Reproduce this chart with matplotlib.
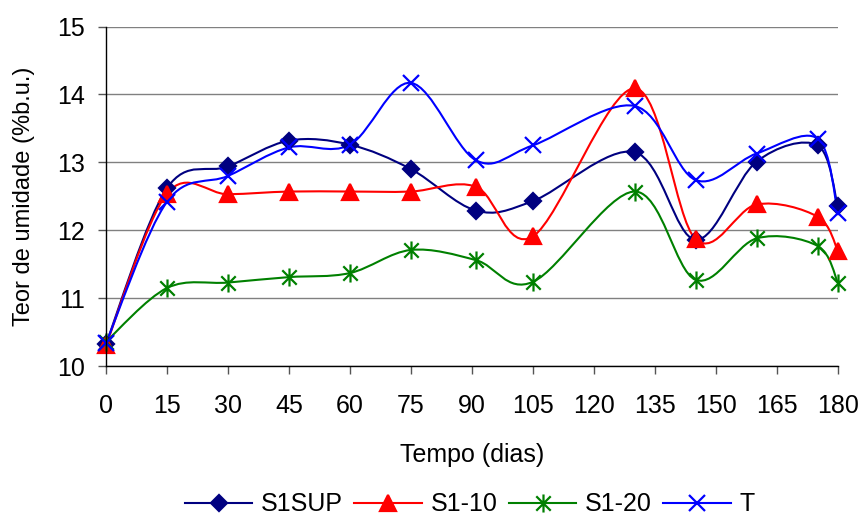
import matplotlib.pyplot as plt
from matplotlib.lines import Line2D
from matplotlib.patches import PathPatch
from matplotlib.path import Path

plt.rcParams["font.family"] = ["Liberation Sans", "DejaVu Sans"]

DAYS = [0, 15, 30, 45, 60, 75, 91, 105, 130, 145, 160, 175, 180]

S1SUP = [10.33, 12.62, 12.94, 13.32, 13.26, 12.90, 12.29, 12.43, 13.15, 11.86, 13.01, 13.25, 12.35]
S1_10 = [10.31, 12.54, 12.53, 12.57, 12.57, 12.57, 12.64, 11.91, 14.09, 11.87, 12.38, 12.20, 11.70]
S1_20 = [10.36, 11.15, 11.23, 11.31, 11.37, 11.71, 11.56, 11.24, 12.57, 11.27, 11.88, 11.77, 11.23]
T = [10.34, 12.42, 12.80, 13.22, 13.26, 14.17, 13.03, 13.25, 13.83, 12.74, 13.13, 13.35, 12.26]

X_TICKS = list(range(0, 181, 15))
Y_TICKS = [10, 11, 12, 13, 14, 15]

# Excel-like asterisk: an x with a vertical bar
ASTERISK = Path(
    [(-0.8, -0.8), (0.8, 0.8), (-0.8, 0.8), (0.8, -0.8), (0, -1), (0, 1)],
    [Path.MOVETO, Path.LINETO, Path.MOVETO, Path.LINETO, Path.MOVETO, Path.LINETO],
)

SERIES = [
    ("S1SUP", S1SUP, "#000080", "D", 8.5),
    ("S1-10", S1_10, "#ff0000", "^", 11),
    ("S1-20", S1_20, "#008000", ASTERISK, 13),
    ("T", T, "#0000ff", "x", 11),
]


def smooth_path(xs, ys):
    # cubic bezier through the points, same idea as Excel's smoothed line
    pts = list(zip(xs, ys))
    n = len(pts)
    verts = [pts[0]]
    codes = [Path.MOVETO]
    for i in range(n - 1):
        p0 = pts[max(i - 1, 0)]
        p1 = pts[i]
        p2 = pts[i + 1]
        p3 = pts[min(i + 2, n - 1)]
        c1 = (p1[0] + (p2[0] - p0[0]) / 6, p1[1] + (p2[1] - p0[1]) / 6)
        c2 = (p2[0] - (p3[0] - p1[0]) / 6, p2[1] - (p3[1] - p1[1]) / 6)
        verts += [c1, c2, p2]
        codes += [Path.CURVE4] * 3
    return Path(verts, codes)


fig = plt.figure(figsize=(8.62, 5.2), dpi=100)
ax = fig.add_axes([0.123, 0.296, 0.849, 0.653])

for name, vals, color, marker, ms in SERIES:
    patch = PathPatch(smooth_path(DAYS, vals), fill=False, edgecolor=color,
                      linewidth=1.5, clip_on=False)
    ax.add_patch(patch)
    ax.plot(DAYS, vals, linestyle="none", marker=marker, markersize=ms,
            color=color, markeredgewidth=1.6, clip_on=False)

ax.set_xlim(0, 180)
ax.set_ylim(10, 15)
ax.set_xticks(X_TICKS)
ax.set_yticks(Y_TICKS)
ax.tick_params(axis="both", labelsize=18, direction="out", length=6,
               width=1, color="#555555")
ax.tick_params(axis="x", pad=14)
ax.tick_params(axis="y", pad=9)
ax.grid(axis="y", color="#808080", linewidth=1)
ax.set_axisbelow(True)
for side in ("top", "right"):
    ax.spines[side].set_visible(False)
for side in ("left", "bottom"):
    ax.spines[side].set_color("black")
    ax.spines[side].set_linewidth(1)

ax.set_xlabel("Tempo (dias)", fontsize=18, labelpad=18)
ax.set_ylabel("Teor de umidade (%b.u.)", fontsize=17, labelpad=16)

handles = [
    Line2D([], [], color=c, marker=m, markersize=ms, markeredgewidth=1.6,
           linewidth=1.5)
    for _, _, c, m, ms in SERIES
]
fig.legend(handles, [s[0] for s in SERIES], loc="center",
           bbox_to_anchor=(0.545, 0.03), ncol=4, frameon=False, fontsize=18,
           handlelength=2.7, handletextpad=0.35, columnspacing=0.45,
           numpoints=1, borderpad=0.2)

fig.savefig("out.png", dpi=100)
